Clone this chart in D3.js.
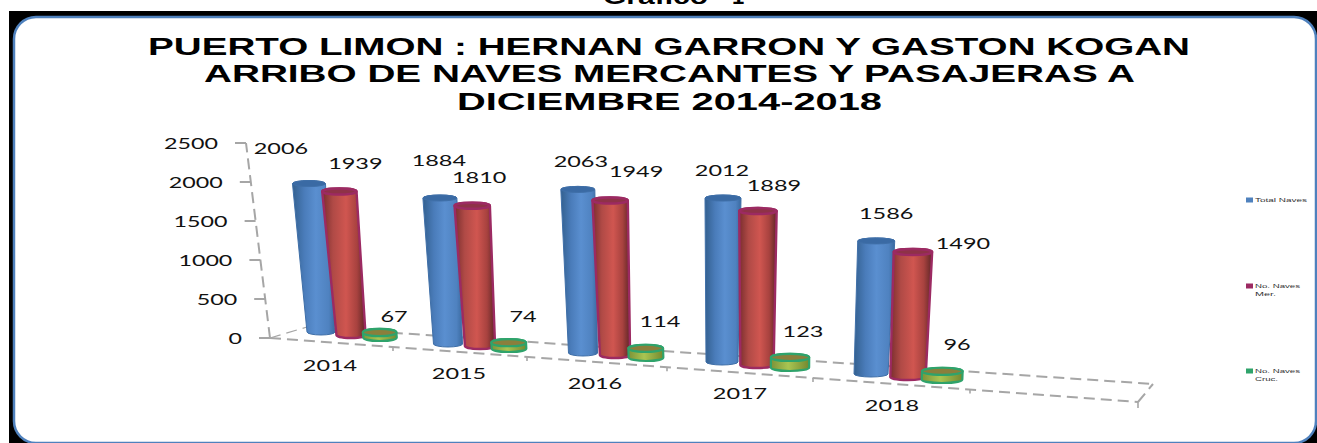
<!DOCTYPE html>
<html><head><meta charset="utf-8">
<script src="https://cdn.jsdelivr.net/npm/d3@7"></script>
<style>html,body{margin:0;padding:0;background:#fff}svg{display:block}</style>
</head><body><div id="c"></div>
<script>
const years = ["2014","2015","2016","2017","2018"];
const totalNaves = [2006,1884,2063,2012,1586];
const navesMer = [1939,1810,1949,1889,1490];
const navesCruc = [67,74,114,123,96];
const seriesNames = ["Total Naves","No. Naves Mer.","No. Naves Cruc."];
const yTicks = [0,500,1000,1500,2000,2500];
const titleLines = ["PUERTO LIMON : HERNAN GARRON Y GASTON KOGAN","ARRIBO DE NAVES MERCANTES Y PASAJERAS A","DICIEMBRE  2014-2018"];

const W=1317,H=443;
const svg=d3.select("#c").append("svg").attr("width",W).attr("height",H);
const defs=svg.append("defs");
function grad(id,stops){
  const g=defs.append("linearGradient").attr("id",id).attr("x1","0").attr("x2","1").attr("y1","0").attr("y2","0");
  stops.forEach(s=>g.append("stop").attr("offset",s[0]).attr("stop-color",s[1]));
}
grad("gb",[[0,"#33608f"],[.28,"#4a7cba"],[.55,"#5a8fd0"],[.85,"#4f82c0"],[1,"#3a6aa0"]]);
grad("gr",[[0,"#7a2e2e"],[.25,"#b04a46"],[.55,"#d05650"],[.8,"#a8423f"],[1,"#5e2626"]]);
grad("gg",[[0,"#7c9238"],[.45,"#a9c552"],[1,"#74882f"]]);

// frame
svg.append("rect").attr("x",9).attr("y",11).attr("width",W-9).attr("height",H-11).attr("fill","#000");
svg.append("rect").attr("x",14).attr("y",17).attr("width",1302).attr("height",426).attr("rx",22).attr("ry",22)
  .attr("fill","#fff").attr("stroke","#4f81bd").attr("stroke-width",2.5);

// heading cropped by the top edge, as in the reference
svg.append("text").attr("x",603).attr("y",3.5).attr("font-family","Liberation Sans").attr("font-weight","bold")
  .attr("font-size",22).attr("textLength",105).attr("lengthAdjust","spacingAndGlyphs").text("Grafico");
svg.append("text").attr("x",732).attr("y",3.5).attr("font-family","Liberation Sans").attr("font-weight","bold")
  .attr("font-size",22).text("1");

// title
const titleBaselines=[55,82,110], titleX=[[148,1190],[204,1135],[457,882]];
titleLines.forEach((t,i)=>{
  svg.append("text").attr("x",titleX[i][0]).attr("y",titleBaselines[i])
    .attr("font-family","Liberation Sans").attr("font-weight","bold").attr("font-size",23)
    .attr("textLength",titleX[i][1]-titleX[i][0]).attr("lengthAdjust","spacingAndGlyphs").attr("fill","#000").text(t);
});

// slanted value axis
const axisY=d3.scaleLinear().domain([0,2500]).range([338,143]);
const axisX=d3.scaleLinear().domain([0,2500]).range([270,246]);
// floor
const idx=[0,1,2,3,4];
const gridStyle=s=>s.attr("fill","none").attr("stroke","#a6a6a6").attr("stroke-width",2).attr("stroke-dasharray","11 6");
const line=d3.line();
const floorFront=[[axisX(0),axisY(0)],[1138,402]], floorBack=[[307,327],[1153,384]];
gridStyle(svg.append("path").attr("d",line([floorFront[0],floorBack[0]]))).attr("stroke-width",1.2);
gridStyle(svg.append("path").attr("d",line(floorBack)));
gridStyle(svg.append("path").attr("d",line(floorFront)));
gridStyle(svg.append("path").attr("d",line([floorFront[1],floorBack[1]])));
gridStyle(svg.append("path").attr("d",line([[axisX(0),axisY(0)],[axisX(2500),axisY(2500)]])));

// front-edge ticks
const tickFx=d3.scaleLinear().domain([0,1,2,3,4,5,6]).range([270,393,527,667,813,970,1138]);
d3.range(1,7).forEach(i=>{
  const x=tickFx(i), y=338+(x-270)*(64/868);
  svg.append("line").attr("x1",x).attr("x2",x).attr("y1",y).attr("y2",y+(i==6?6:4)).attr("stroke","#a6a6a6").attr("stroke-width",1.6);
});
// y ticks
yTicks.forEach(v=>{
  const x=axisX(v),y=axisY(v);
  svg.append("line").attr("x1",x-11).attr("x2",x+(v===0?1:0)).attr("y1",y).attr("y2",y).attr("stroke","#a6a6a6").attr("stroke-width",2);
  const s=String(v);
  svg.append("text").attr("x",x-28-s.length*13.5).attr("y",y+1).attr("dy","0.36em")
    .attr("font-family","Lato").attr("font-size",15).attr("fill","#111")
    .attr("textLength",s.length*13.5).attr("lengthAdjust","spacingAndGlyphs").text(s);
});

// 3D projection of the columns: category index → base position, depth scale, lean
const baseX=[
  d3.scaleLinear().domain(idx).range([321,448,583,722,871]),
  d3.scaleLinear().domain(idx).range([351,480,615,757,908]),
  d3.scaleLinear().domain(idx).range([380,509,646,790,942])];
const baseY=[
  d3.scaleLinear().domain(idx).range([332,344,353,362,374]),
  d3.scaleLinear().domain(idx).range([335,346,355,365,377]),
  d3.scaleLinear().domain(idx).range([337.4,348.4,357.4,367.4,379.4])];
const unit=d3.scaleLinear().domain(idx).range([.074,.0775,.0793,.0815,.0839]);
const lean=d3.scaleLinear().domain(idx).range([-.006,-.0043,-.0025,.0005,.0033]);
const topW=d3.scaleLinear().domain(idx).range([33,34,34,36,37]);
const baseW=d3.scaleLinear().domain(idx).range([28,29,29,32,34]);

const looks=[
 {fill:"url(#gb)",stroke:"#3f6fa8",sw:1,cap:"#3a6aa4",swatch:"#4f81bd"},
 {fill:"url(#gr)",stroke:"#9c2a62",sw:2.4,cap:"#8e3247",swatch:"#9c2a62"},
 {fill:"url(#gg)",stroke:"#2fa36b",sw:2.2,cap:"#8a7f3c",swatch:"#2fa36b"}];

function cylinder(g,c,s,v){
  const l=looks[s];
  const bx=baseX[s](c),by=baseY[s](c),tx=bx+lean(c)*v,ty=by-unit(c)*v;
  const grow=s===0?1:1.04;
  const scaleG=s===2?1.15:1;
  const bw=baseW(c)*grow*scaleG/2, tw=(s===2?baseW(c)*grow*scaleG:topW(c)*grow)/2;
  const ry=s===2?3.6:3;
  const d=`M${tx-tw},${ty}L${bx-bw},${by}A${bw},${ry} 0 0 0 ${bx+bw},${by}L${tx+tw},${ty}A${tw},${ry} 0 0 0 ${tx-tw},${ty}Z`;
  g.append("path").attr("d",d).attr("fill",l.fill).attr("stroke",l.stroke).attr("stroke-width",l.sw);
  g.append("ellipse").attr("cx",tx).attr("cy",ty).attr("rx",tw).attr("ry",ry).attr("fill",l.cap).attr("stroke",l.stroke).attr("stroke-width",l.sw);
  return {tx,ty,bx,by};
}
const seriesData=[totalNaves,navesMer,navesCruc];
// label offsets from the projected anchor of each column
const labelDx=[[-28,-1,3,-1,10],[16,7,26,16,50],[14,14,14,13,15]];
const labelDy=[[-35,-37,-28,-27,-27],[-28,-28,-29,-25,-8],[-20.4,-31.4,-35.4,-35.4,-34.4]];
const labels=[];
const bars=svg.append("g");
years.forEach((y,c)=>{
  seriesData.forEach((vals,s)=>{
    const p=cylinder(bars,c,s,vals[c]);
    const ax=s===2?p.bx:p.tx, ay=s===2?p.by:p.ty;
    labels.push({t:String(vals[c]),x:ax+labelDx[s][c],y:ay+labelDy[s][c]});
  });
});
function stretched(t,cx,y,fill){
  const w=t.length*13.6;
  svg.append("text").attr("x",cx-w/2).attr("y",y).attr("dy","0.36em").attr("font-family","Lato").attr("font-size",15)
    .attr("fill",fill||"#111").attr("textLength",w).attr("lengthAdjust","spacingAndGlyphs").text(t);
}
labels.forEach(d=>stretched(d.t,d.x,d.y));
// category labels follow the front edge of the floor
const catX=d3.scaleLinear().domain(idx).range([330,459,595,740,892]);
const catY=d3.scaleLinear().domain(idx).range([366,374,384,394,406]);
years.forEach((y,c)=>stretched(y,catX(c),catY(c)));

// legend
const legY=d3.scaleLinear().domain([0,1,2]).range([200,286,371]);
const legLines=[["Total Naves"],["No. Naves","Mer."],["No. Naves","Cruc."]];
const legW={"Total Naves":52,"No. Naves":45,"Mer.":21,"Cruc.":23};
seriesNames.forEach((n,i)=>{
  svg.append("rect").attr("x",1246).attr("y",legY(i)-2.5).attr("width",7).attr("height",5).attr("fill",looks[i].swatch);
  legLines[i].forEach((t,j)=>{
    svg.append("text").attr("x",1255).attr("y",legY(i)+j*8).attr("dy","0.36em").attr("font-family","Liberation Sans")
      .attr("font-size",6).attr("fill","#333").attr("textLength",legW[t]).attr("lengthAdjust","spacingAndGlyphs").text(t);
  });
});
</script></body></html>
